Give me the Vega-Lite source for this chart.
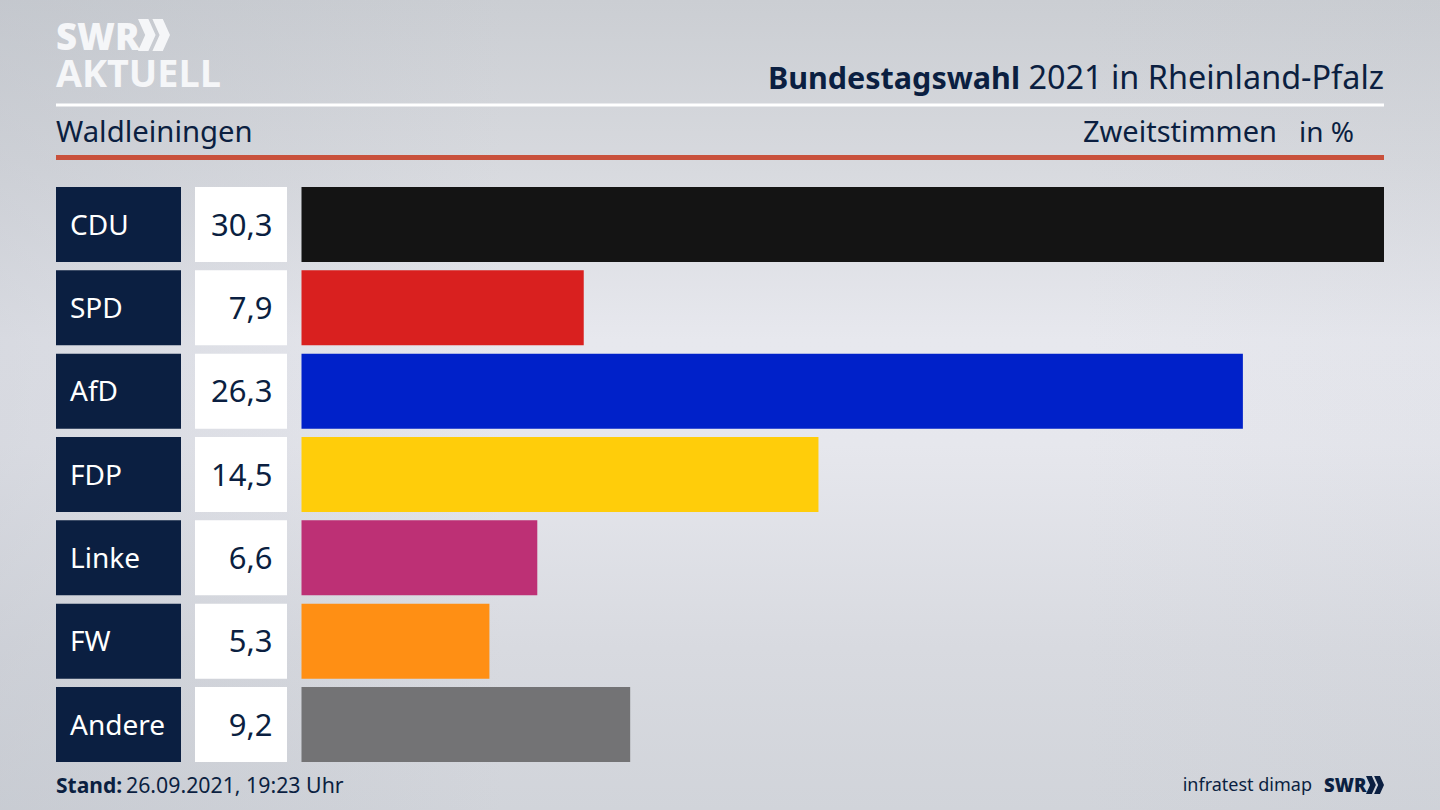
{"$schema":"https://vega.github.io/schema/vega-lite/v6.json","width":1440,"height":810,"padding":0,"autosize":{"type":"none"},"background":"#d6d8de","config":{"view":{"stroke":null},"text":{"font":"Noto Sans"}},"datasets":{"rows":[{"party":"CDU","value":30.3,"label":"30,3","color":"#141414"},{"party":"SPD","value":7.9,"label":"7,9","color":"#d9201f"},{"party":"AfD","value":26.35,"label":"26,3","color":"#0021c9"},{"party":"FDP","value":14.47,"label":"14,5","color":"#ffcd0a"},{"party":"Linke","value":6.6,"label":"6,6","color":"#bd3075"},{"party":"FW","value":5.26,"label":"5,3","color":"#ff8f14"},{"party":"Andere","value":9.2,"label":"9,2","color":"#737375"}]},"layer":[{"data":{"values":[{"bg":1}]},"mark":{"type":"rect","color":{"gradient":"linear","x1":0,"y1":0,"x2":0,"y2":1,"stops":[{"offset":0,"color":"#cbced3"},{"offset":0.2,"color":"#d7d9de"},{"offset":0.42,"color":"#e7e8ee"},{"offset":0.55,"color":"#e6e7ed"},{"offset":0.8,"color":"#d8dae0"},{"offset":1,"color":"#d1d4da"}]}},"encoding":{"x":{"value":0},"x2":{"value":1440},"y":{"value":0},"y2":{"value":810}}},{"data":{"values":[{"bg":2}]},"mark":{"type":"rect","color":{"gradient":"linear","x1":0,"y1":0,"x2":1,"y2":0,"stops":[{"offset":0,"color":"rgba(180,185,194,0.3)"},{"offset":0.35,"color":"rgba(180,185,194,0)"},{"offset":0.75,"color":"rgba(180,185,194,0)"},{"offset":1,"color":"rgba(180,185,194,0.08)"}]}},"encoding":{"x":{"value":0},"x2":{"value":1440},"y":{"value":0},"y2":{"value":810}}},{"data":{"values":[{"r":1}]},"mark":{"type":"rule","color":"#ffffff","strokeWidth":3},"encoding":{"x":{"value":56},"x2":{"value":1384},"y":{"value":105}}},{"data":{"values":[{"r":2}]},"mark":{"type":"rule","color":"#c9513c","strokeWidth":5},"encoding":{"x":{"value":56},"x2":{"value":1384},"y":{"value":157.5}}},{"data":{"name":"rows"},"mark":{"type":"rect","color":"#0b1f41"},"encoding":{"x":{"value":56},"x2":{"value":181},"y":{"field":"party","type":"nominal","sort":null,"axis":null,"scale":{"range":[187,762],"paddingInner":0.1,"paddingOuter":0}}}},{"data":{"name":"rows"},"mark":{"type":"rect","color":"#ffffff"},"encoding":{"x":{"value":195},"x2":{"value":287},"y":{"field":"party","type":"nominal","sort":null,"axis":null}}},{"data":{"name":"rows"},"mark":{"type":"bar"},"encoding":{"x":{"field":"value","type":"quantitative","axis":null,"stack":null,"scale":{"domain":[0,30.3],"range":[301.5,1384]}},"y":{"field":"party","type":"nominal","sort":null,"axis":null},"color":{"field":"color","type":"nominal","scale":null,"legend":null}}},{"data":{"name":"rows"},"mark":{"type":"text","align":"left","baseline":"middle","fontSize":28,"color":"#ffffff","dy":2},"encoding":{"x":{"value":70},"y":{"field":"party","type":"nominal","sort":null,"axis":null},"text":{"field":"party"}}},{"data":{"name":"rows"},"mark":{"type":"text","align":"right","baseline":"middle","fontSize":31,"color":"#0b1f41","dy":2},"encoding":{"x":{"value":272.5},"y":{"field":"party","type":"nominal","sort":null,"axis":null},"text":{"field":"label"}}},{"data":{"values":[{"t":"2021 in Rheinland-Pfalz"}]},"mark":{"type":"text","align":"right","baseline":"alphabetic","fontSize":32.4,"color":"#0b1f41"},"encoding":{"x":{"value":1384},"y":{"value":89},"text":{"field":"t"}}},{"data":{"values":[{"t":"Bundestagswahl"}]},"mark":{"type":"text","align":"right","baseline":"alphabetic","fontSize":30.5,"fontWeight":"bold","color":"#0b1f41"},"encoding":{"x":{"value":1020},"y":{"value":89},"text":{"field":"t"}}},{"data":{"values":[{"t":"Waldleiningen"}]},"mark":{"type":"text","align":"left","baseline":"alphabetic","fontSize":29.3,"color":"#0b1f41"},"encoding":{"x":{"value":56},"y":{"value":142},"text":{"field":"t"}}},{"data":{"values":[{"t":"Zweitstimmen"}]},"mark":{"type":"text","align":"right","baseline":"alphabetic","fontSize":29,"color":"#0b1f41"},"encoding":{"x":{"value":1277},"y":{"value":142},"text":{"field":"t"}}},{"data":{"values":[{"t":"in %"}]},"mark":{"type":"text","align":"right","baseline":"alphabetic","fontSize":28,"color":"#0b1f41"},"encoding":{"x":{"value":1354},"y":{"value":142},"text":{"field":"t"}}},{"data":{"values":[{"t":"Stand:"}]},"mark":{"type":"text","align":"left","baseline":"alphabetic","fontSize":21,"fontWeight":"bold","color":"#0b1f41"},"encoding":{"x":{"value":56},"y":{"value":793},"text":{"field":"t"}}},{"data":{"values":[{"t":"26.09.2021, 19:23 Uhr"}]},"mark":{"type":"text","align":"left","baseline":"alphabetic","fontSize":21.3,"color":"#0b1f41"},"encoding":{"x":{"value":126},"y":{"value":793},"text":{"field":"t"}}},{"data":{"values":[{"t":"infratest dimap"}]},"mark":{"type":"text","align":"right","baseline":"alphabetic","fontSize":18,"color":"#0b1f41"},"encoding":{"x":{"value":1312},"y":{"value":791},"text":{"field":"t"}}},{"data":{"values":[{"t":"SWR"}]},"mark":{"type":"text","align":"left","baseline":"alphabetic","fontSize":18.5,"fontWeight":800,"font":"Open Sans","color":"#0b1f41"},"encoding":{"x":{"value":1324},"y":{"value":792},"text":{"field":"t"}}},{"data":{"values":[{"t":"chev"}]},"mark":{"type":"point","filled":true,"opacity":1,"strokeWidth":0,"color":"#0b1f41","shape":"M-1,-1L-0.35,-1L0.1,0L-0.35,1L-1,1L-0.55,0ZM-0.1,-1L0.55,-1L1,0L0.55,1L-0.1,1L0.35,0Z","size":324},"encoding":{"x":{"value":1375},"y":{"value":785}}},{"data":{"values":[{"t":"SWR"}]},"mark":{"type":"text","align":"left","baseline":"alphabetic","fontSize":36.5,"fontWeight":800,"font":"Open Sans","color":"#f5f6f8"},"encoding":{"x":{"value":56},"y":{"value":49.5},"text":{"field":"t"}}},{"data":{"values":[{"t":"chev"}]},"mark":{"type":"point","filled":true,"opacity":1,"strokeWidth":0,"color":"#f5f6f8","shape":"M-1,-1L-0.35,-1L0.1,0L-0.35,1L-1,1L-0.55,0ZM-0.1,-1L0.55,-1L1,0L0.55,1L-0.1,1L0.35,0Z","size":1024},"encoding":{"x":{"value":154},"y":{"value":35}}},{"data":{"values":[{"t":"AKTUELL"}]},"mark":{"type":"text","align":"left","baseline":"alphabetic","fontSize":37.7,"fontWeight":"bold","font":"Open Sans","color":"#f5f6f8"},"encoding":{"x":{"value":56},"y":{"value":87},"text":{"field":"t"}}}]}
